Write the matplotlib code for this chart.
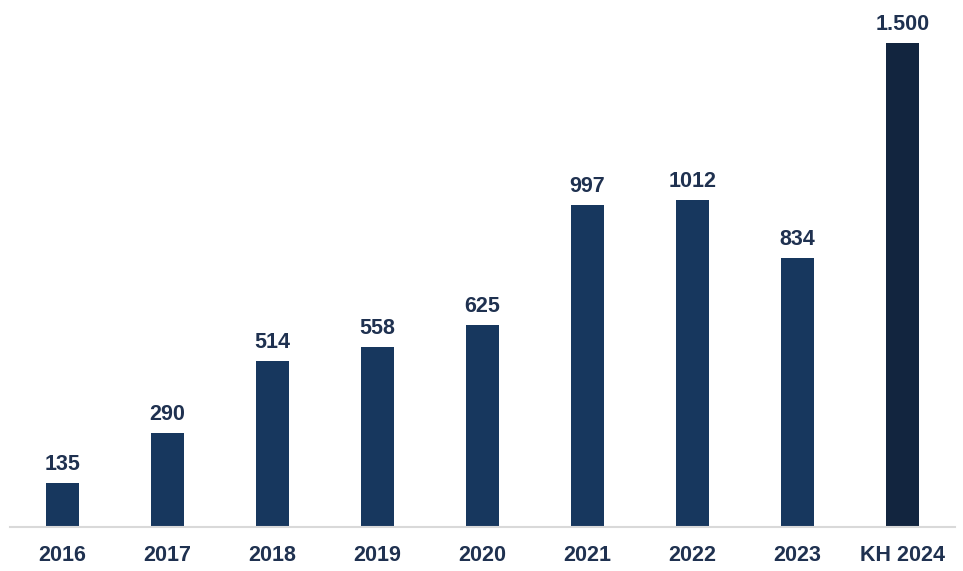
import matplotlib.pyplot as plt

years = ['2016', '2017', '2018', '2019', '2020', '2021', '2022', '2023', 'KH 2024']
values = [135, 290, 514, 558, 625, 997, 1012, 834, 1500]
labels = ['135', '290', '514', '558', '625', '997', '1012', '834', '1.500']
colors = ['#17375e'] * 8 + ['#12253f']

plt.rcParams['font.family'] = ['Liberation Sans', 'DejaVu Sans']

fig = plt.figure(figsize=(9.63, 5.71), dpi=100)
ax = fig.add_axes([10 / 963, 44 / 571, 945 / 963, 527 / 571])

x = range(len(years))
bars = ax.bar(x, values, width=0.31, color=colors)
for b, lab in zip(bars, labels):
    ax.annotate(lab, (b.get_x() + b.get_width() / 2, b.get_height()),
                xytext=(0, 6), textcoords='offset points', ha='center', va='bottom',
                fontsize=15.5, fontweight='bold', color='#1f3150')

ax.set_xlim(-0.5, 8.5)
ax.set_ylim(0, 1633)
ax.set_xticks(list(x))
ax.set_xticklabels(years, fontsize=15.5, fontweight='bold', color='#1f3150')
ax.tick_params(axis='x', length=0, pad=13)
ax.set_yticks([])
for s in ['top', 'right', 'left']:
    ax.spines[s].set_visible(False)
ax.spines['bottom'].set_color('#d9d9d9')
ax.spines['bottom'].set_linewidth(1.5)

fig.savefig('out.png', dpi=100)
